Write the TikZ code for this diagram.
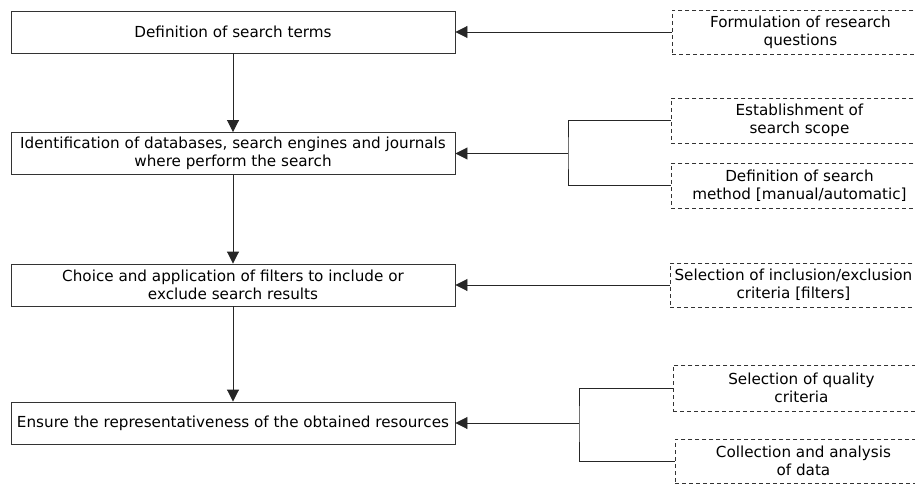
\documentclass[tikz,border=0pt]{standalone}
\usepackage{fontspec}
\setmainfont{DejaVu Sans}
\usepackage{tikz}
\usetikzlibrary{arrows.meta}

\begin{document}
\begin{tikzpicture}[x=1pt,y=-1pt,
    font=\fontsize{15.2}{18}\selectfont,
    mainbox/.style={draw=black!80,line width=0.9pt,minimum width=444pt,minimum height=42pt,inner sep=0pt,align=center},
    subbox/.style={draw=black!80,line width=0.9pt,dash pattern=on 4pt off 3pt,minimum width=256pt,minimum height=44pt,inner sep=0pt,align=center,anchor=west},
    arr/.style={draw=black!85,line width=0.9pt,-{Triangle[length=12pt,width=12pt]}},
    link/.style={draw=black!85,line width=0.9pt}]
      \useasboundingbox (0,0) rectangle (915,484);
      % main steps
      \node[mainbox] (terms) at (233,32) {Definition of search terms};
      \node[mainbox] (sources) at (233,153.5) {Identification of databases, search engines and journals\\where perform the search};
      \node[mainbox] (filters) at (233,285) {Choice and application of filters to include or\\exclude search results};
      \node[mainbox] (repr) at (233,423) {Ensure the representativeness of the obtained resources};
      % supporting tasks
      \node[subbox] (questions) at (672,32) {Formulation of research\\questions};
      \node[subbox,minimum height=45pt] (scope) at (671,120.5) {Establishment of\\search scope};
      \node[subbox,minimum height=45pt] (method) at (671,185.5) {Definition of search\\method [manual/automatic]};
      \node[subbox,minimum width=246pt] (criteria) at (670,285) {Selection of inclusion/exclusion\\criteria [filters]};
      \node[subbox,minimum height=46pt] (quality) at (673,388) {Selection of quality\\criteria};
      \node[subbox] (data) at (675,461) {Collection and analysis\\of data};
      \coordinate (jsources) at (568,153.5);
      \coordinate (jrepr) at (579,423);
      % main flow
      \draw[arr] (terms) -- (sources);
      \draw[arr] (sources) -- (filters);
      \draw[arr] (filters) -- (repr);
      % side inputs
      \draw[arr] (questions.west) -- (terms.east);
      \draw[link] (scope.west) -| (jsources) |- (method.west);
      \draw[arr] (jsources) -- (sources.east);
      \draw[arr] (criteria.west) -- (filters.east);
      \draw[link] (quality.west) -| (jrepr) |- (data.west);
      \draw[arr] (jrepr) -- (repr.east);
    \end{tikzpicture}
\end{document}
